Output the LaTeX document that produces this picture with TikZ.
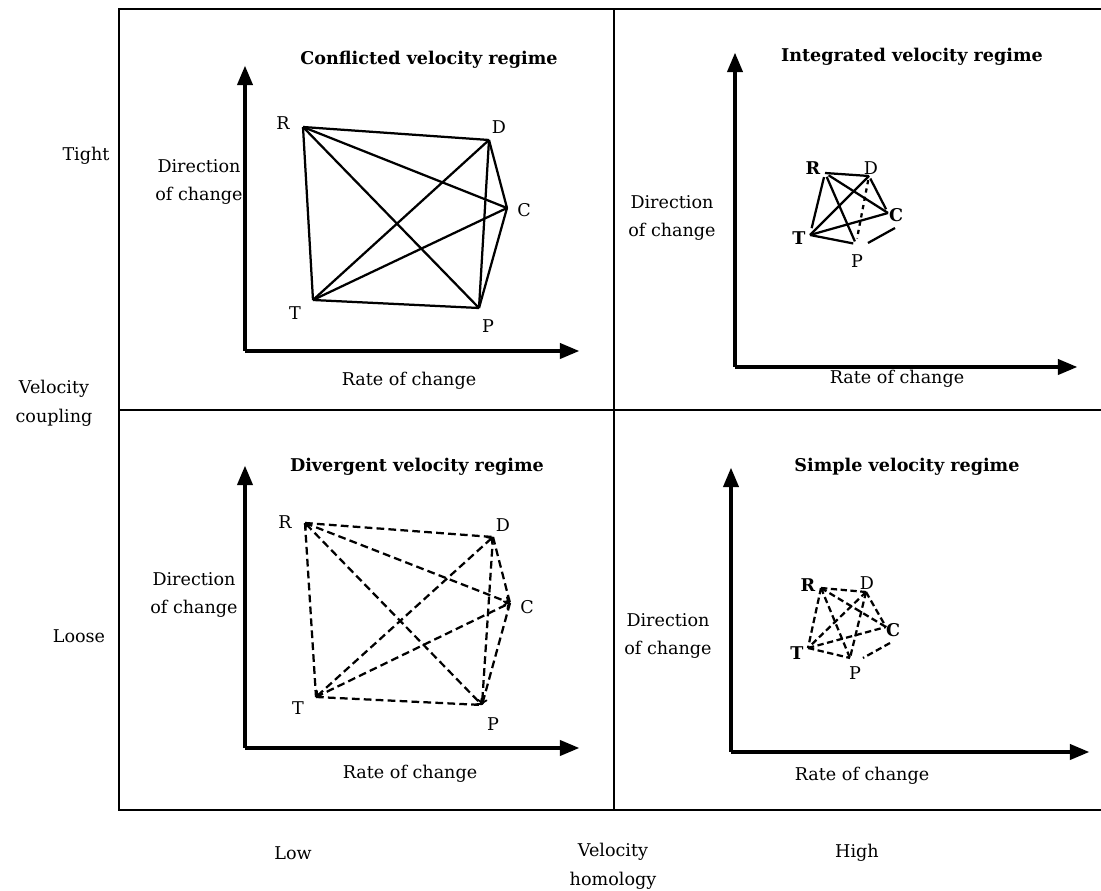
\documentclass[tikz,border=0pt]{standalone}
\usepackage{fontspec}
\setmainfont{DejaVu Serif}
\usetikzlibrary{arrows,calc}

\tikzset{
  frame/.style={line width=1.5pt},
  axis/.style={line width=2.2pt,-triangle 45},
  link/.style={line width=1.6pt},
  dlink/.style={line width=1.6pt,dash pattern=on 5.5pt off 3pt},
  lbl/.style={font=\fontsize{12.5}{20.5}\selectfont,align=center,inner sep=0pt},
  ttl/.style={font=\fontsize{12.5}{14}\selectfont\bfseries,inner sep=0pt},
  vtx/.style={font=\fontsize{12.5}{14}\selectfont,inner sep=0pt},
  bvtx/.style={font=\fontsize{12.5}{14}\selectfont\bfseries,inner sep=0pt},
}

\begin{document}
\begin{tikzpicture}[x=0.025cm,y=-0.025cm,>=to]
\useasboundingbox (0,0) rectangle (1101,891);

% frame
\coordinate (NW) at (119,9);
\coordinate (SW) at (119,810);
\coordinate (NE) at (1101,9);
\coordinate (SE) at (1101,810);
\coordinate (Nm) at (614,9);
\coordinate (Sm) at (614,810);
\coordinate (Wm) at (119,410);
\coordinate (Em) at (1101,410);
\draw[frame] (NE) -- (NW) -- (SW) -- (SE);
\draw[frame] (Nm) -- (Sm);
\draw[frame] (Wm) -- (Em);

% outer labels
\node[lbl] (tight) at (86,156) {Tight};
\node[lbl] (loose) at (79,636) {Loose};
\node[lbl] (vcoup) at (54,403) {Velocity\\coupling};
\node[lbl] (low) at (293,853) {Low};
\node[lbl] (vhom) at (613,866) {Velocity\\homology};
\node[lbl] (high) at (857,853) {High};

%%% conflicted (top left)
\coordinate (tlO) at (245,351);
\draw[axis] (tlO) -- (245,66);
\draw[axis] (tlO) -- (579,351);
\node[ttl] (tlT) at (429,60) {Conflicted velocity regime};
\node[lbl] (tlX) at (409,381) {Rate of change};
\node[lbl] (tlY) at (199,182) {Direction\\of change};
% vertices
\coordinate (tlR) at (303,127);
\coordinate (tlD) at (489,140);
\coordinate (tlC) at (507,208);
\coordinate (tlTT) at (313,300);
\coordinate (tlP) at (479,308);
\node[vtx] at (283,123) {R};
\node[vtx] at (499,127) {D};
\node[vtx] at (524,210) {C};
\node[vtx] at (295,313) {T};
\node[vtx] at (488,326) {P};
\foreach \u/\v in {R/D,R/C,R/P,R/TT,D/C,D/P,D/TT,C/P,C/TT,P/TT}
  \draw[link] (tl\u) -- (tl\v);

%%% integrated (top right)
\coordinate (trO) at (735,367);
\draw[axis] (trO) -- (735,53);
\draw[axis] (trO) -- (1077,367);
\node[ttl] (trT) at (912,57) {Integrated velocity regime};
\node[lbl] (trX) at (897,379) {Rate of change};
\node[lbl] (trY) at (672,218) {Direction\\of change};
% vertices
\coordinate (trR) at (825,173);
\coordinate (trD) at (869,176);
\coordinate (trC) at (888,213);
\coordinate (trTT) at (810,235);
\coordinate (trP) at (856,244);
\coordinate (trCs) at (895,228);
\coordinate (trPs) at (868,243);
\node[bvtx] at (813,168) {R};
\node[vtx] at (871,168) {D};
\node[bvtx] at (896,215) {C};
\node[bvtx] at (799,238) {T};
\node[vtx] at (857,261) {P};
\draw[link] (trR) -- (trD);
\draw[link,shorten <=3pt] (trR) -- (trC);
\draw[link,shorten <=3pt,shorten >=2pt] (trR) -- (trP);
\draw[link,shorten <=3pt,shorten >=5pt] (trR) -- (trTT);
\draw[link,shorten <=2pt,shorten >=3pt] (trD) -- (trC);
\draw[link,dashed,shorten <=3pt,shorten >=4pt] (trD) -- (trP);
\draw[link] (trTT) -- (trD);
\draw[link] (trTT) -- (trC);
\draw[link,shorten >=2pt] (trTT) -- (trP);
\draw[link] (trCs) -- (trPs);

%%% divergent (bottom left)
\coordinate (blO) at (245,748);
\draw[axis] (blO) -- (245,466);
\draw[axis] (blO) -- (579,748);
\node[ttl] (blT) at (417,467) {Divergent velocity regime};
\node[lbl] (blX) at (410,774) {Rate of change};
\node[lbl] (blY) at (194,595) {Direction\\of change};
% vertices
\coordinate (blR) at (305,523);
\coordinate (blD) at (493,537);
\coordinate (blC) at (510,603);
\coordinate (blTT) at (316,697);
\coordinate (blP) at (482,705);
\node[vtx] at (285,522) {R};
\node[vtx] at (503,525) {D};
\node[vtx] at (527,607) {C};
\node[vtx] at (298,708) {T};
\node[vtx] at (493,724) {P};
\draw[dlink] (blR) -- (blD);
\draw[dlink,->] (blR) -- (blC);
\draw[dlink,<->] (blR) -- (blP);
\draw[dlink] (blR) -- (blTT);
\draw[dlink] (blD) -- (blC);
\draw[dlink,->] (blD) -- (blP);
\draw[dlink,<->] (blTT) -- (blD);
\draw[dlink,->] (blTT) -- (blC);
\draw[dlink] (blTT) -- (blP);
\draw[dlink] (blC) -- (blP);

%%% simple (bottom right)
\coordinate (brO) at (731,752);
\draw[axis] (brO) -- (731,468);
\draw[axis] (brO) -- (1089,752);
\node[ttl] (brT) at (907,467) {Simple velocity regime};
\node[lbl] (brX) at (862,776) {Rate of change};
\node[lbl] (brY) at (668,636) {Direction\\of change};
% vertices
\coordinate (brR) at (821,588);
\coordinate (brD) at (866,592);
\coordinate (brC) at (886,627);
\coordinate (brTT) at (808,648);
\coordinate (brP) at (850,658);
\coordinate (brCs) at (890,643);
\coordinate (brPs) at (863,658);
\node[bvtx] at (808,585) {R};
\node[vtx] at (867,583) {D};
\node[bvtx] at (893,630) {C};
\node[bvtx] at (797,653) {T};
\node[vtx] at (855,673) {P};
\foreach \u/\v in {R/D,R/C,R/P,R/TT,D/C,D/P,D/TT,TT/C,TT/P}
  \draw[dlink,dash pattern=on 4.5pt off 2.5pt] (br\u) -- (br\v);
\draw[dlink,dash pattern=on 4.5pt off 2.5pt] (brCs) -- (brPs);
\end{tikzpicture}
\end{document}
